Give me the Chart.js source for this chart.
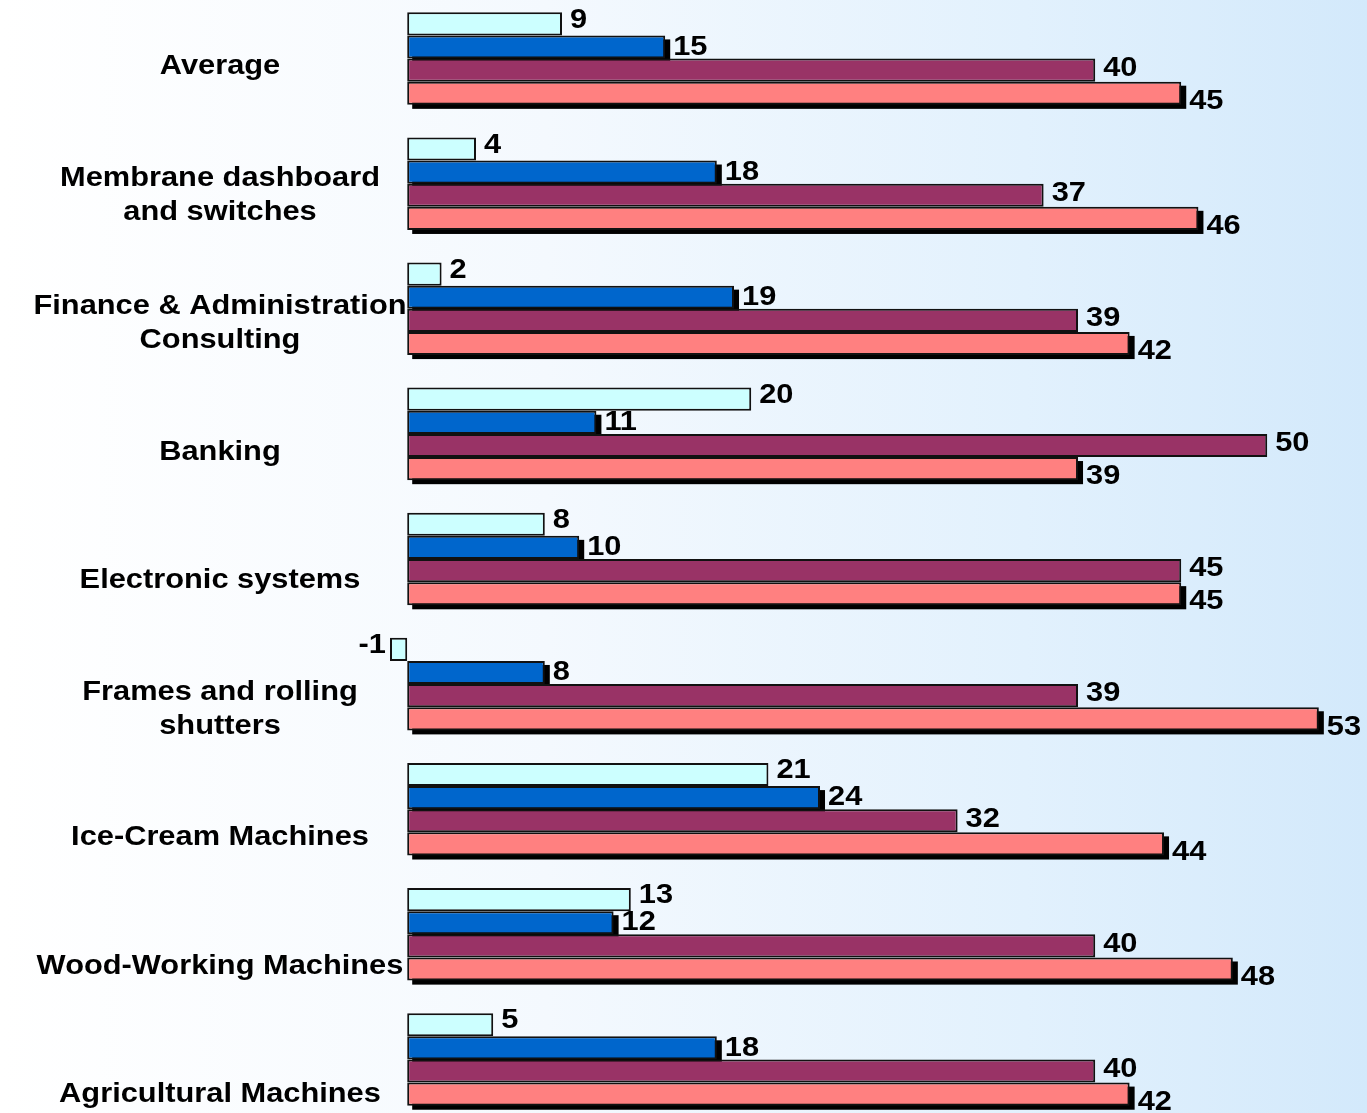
<!DOCTYPE html>
<html>
<head>
<meta charset="utf-8">
<script src="https://cdn.jsdelivr.net/npm/chart.js@4/dist/chart.umd.min.js"></script>
<style>
    html, body { margin: 0; padding: 0; width: 1367px; height: 1113px; overflow: hidden; }
    body { background: linear-gradient(to right, #ffffff 0%, #f4f9fe 40%, #e2f1fd 75%, #d3e9fb 100%); position: relative; }
    #chart { position: absolute; left: 0; top: -4px; }
</style>
</head>
<body>
<canvas id="chart" width="1367" height="1126"></canvas>
<script>
const categories = [
    ['Average'],
    ['Membrane dashboard', 'and switches'],
    ['Finance & Administration', 'Consulting'],
    ['Banking'],
    ['Electronic systems'],
    ['Frames and rolling', 'shutters'],
    ['Ice-Cream Machines'],
    ['Wood-Working Machines'],
    ['Agricultural Machines']
];
const seriesA = [9, 4, 2, 20, 8, -1, 21, 13, 5];
const seriesB = [15, 18, 19, 11, 10, 8, 24, 12, 18];
const seriesC = [40, 37, 39, 50, 45, 39, 32, 40, 40];
const seriesD = [45, 46, 42, 39, 45, 53, 44, 48, 42];
const colors = ['#ccffff', '#0066cc', '#993366', '#ff8080'];

const labelFont = 'bold 28px "Liberation Sans", Arial, sans-serif';

// black drop shadow, only the 2nd and 4th series show one
const shadowPlugin = {
    id: 'shadows',
    beforeDatasetsDraw(chart) {
        const ctx = chart.ctx;
        ctx.save();
        ctx.fillStyle = '#000';
        [1, 3].forEach(i => {
            chart.getDatasetMeta(i).data.forEach(bar => {
                const p = bar.getProps(['x', 'y', 'base', 'height'], true);
                const left = Math.min(p.x, p.base);
                const w = Math.abs(p.x - p.base);
                ctx.fillRect(left + 5, p.y - p.height / 2 + 4, w, p.height);
            });
        });
        ctx.restore();
    }
};

// value labels at bar ends + category names on the left
const textPlugin = {
    id: 'texts',
    afterDatasetsDraw(chart) {
        const ctx = chart.ctx;
        const yOff = [-4, 0, -2, 8];
        ctx.save();
        ctx.font = labelFont;
        ctx.fillStyle = '#000';
        ctx.textBaseline = 'middle';
        chart.data.datasets.forEach((ds, i) => {
            chart.getDatasetMeta(i).data.forEach((bar, j) => {
                const v = ds.data[j];
                const neg = v < 0;
                ctx.save();
                ctx.translate(neg ? bar.x - 4 : bar.x + 8, bar.y + yOff[i]);
                ctx.scale(1.1, 1);
                ctx.textAlign = neg ? 'right' : 'left';
                ctx.fillText(String(v), 0, 0);
                ctx.restore();
            });
        });
        const yScale = chart.scales.y;
        categories.forEach((lines, j) => {
            const cy = yScale.getPixelForValue(j) + 8 + j * 3.4;
            lines.forEach((line, k) => {
                ctx.save();
                ctx.translate(220, cy + (k - (lines.length - 1) / 2) * 34);
                ctx.scale(1.1, 1);
                ctx.textAlign = 'center';
                ctx.fillText(line, 0, 0);
                ctx.restore();
            });
        });
        ctx.restore();
    }
};

const ctx = document.getElementById('chart').getContext('2d');
new Chart(ctx, {
    type: 'bar',
    data: {
        labels: categories,
        datasets: [seriesA, seriesB, seriesC, seriesD].map((d, i) => ({
            data: d,
            backgroundColor: colors[i],
            borderColor: '#111111',
            borderWidth: 2,
            borderSkipped: false,
            barPercentage: 1,
            categoryPercentage: 0.74
        }))
    },
    options: {
        indexAxis: 'y',
        responsive: false,
        animation: false,
        layout: { padding: { left: 390, right: 0, top: 0, bottom: 0 } },
        plugins: { legend: { display: false }, tooltip: { enabled: false } },
        scales: {
            x: { min: -1, max: 55.8, display: false },
            y: { display: false }
        }
    },
    plugins: [shadowPlugin, textPlugin]
});
</script>
</body>
</html>
